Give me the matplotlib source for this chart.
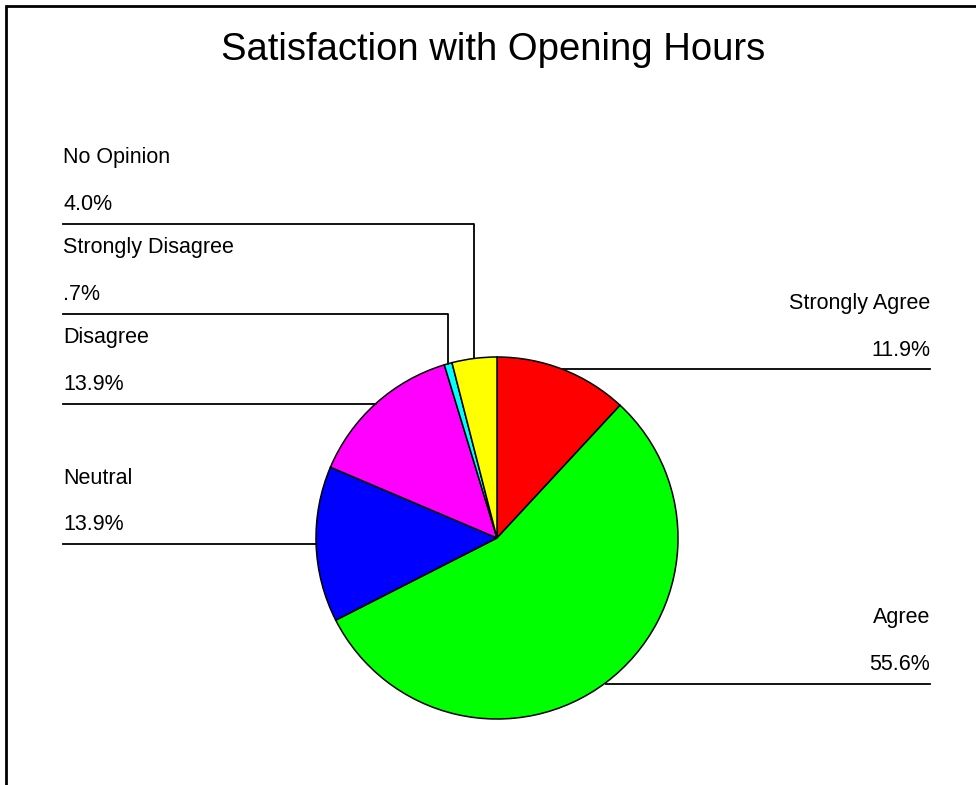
import matplotlib.pyplot as plt
import numpy as np

plt.rcParams['font.family'] = ['Liberation Sans', 'DejaVu Sans']

categories = ["Strongly Agree", "Agree", "Neutral", "Disagree",
              "Strongly Disagree", "No Opinion"]
percents = [11.9, 55.6, 13.9, 13.9, 0.7, 4.0]
colors = ["#ff0000", "#00ff00", "#0000ff", "#ff00ff", "#00ffff", "#ffff00"]

W, H = 976, 785
fig = plt.figure(figsize=(W / 100, H / 100), dpi=100)
ax = fig.add_axes([0, 0, 1, 1])


def py(y):
    # pixel row (from top) -> data y
    return H - y


cx, cy, r = 497, py(538), 181
wedges, _ = ax.pie(percents, colors=colors, startangle=90, counterclock=False,
                   center=(cx, cy), radius=r, frame=True,
                   wedgeprops=dict(edgecolor="black", linewidth=1.1))
ax.set_xlim(0, W)
ax.set_ylim(0, H)
ax.set_aspect("equal")
ax.axis("off")


def fmt(v):
    s = f"{v:.1f}%"
    return s[1:] if s.startswith("0") else s


# leader line row (pixels from top) and side for each slice
line_rows = {"Strongly Agree": 369, "Agree": 684, "Neutral": 544,
             "Disagree": 404, "Strongly Disagree": 314, "No Opinion": 224}
sides = {"Strongly Agree": "right", "Agree": "right", "Neutral": "left",
         "Disagree": "left", "Strongly Disagree": "elbow", "No Opinion": "elbow"}

fs = 15.5
lw = 1.3
for w, name, v in zip(wedges, categories, percents):
    mid = np.deg2rad((w.theta1 + w.theta2) / 2)
    mx = cx + r * np.cos(mid)
    my = cy + r * np.sin(mid)
    row = line_rows[name]
    ly = py(row)
    if sides[name] == "right":
        ax.plot([mx, 930], [ly, ly], color="black", lw=lw)
        ax.text(930, py(row - 19), fmt(v), ha="right", va="center", fontsize=fs)
        ax.text(930, py(row - 66), name, ha="right", va="center", fontsize=fs)
    else:
        if sides[name] == "elbow":
            ax.plot([63, mx, mx], [ly, ly, my], color="black", lw=lw)
        else:
            ax.plot([63, mx], [ly, ly], color="black", lw=lw)
        ax.text(63, py(row - 19), fmt(v), ha="left", va="center", fontsize=fs)
        ax.text(63, py(row - 66), name, ha="left", va="center", fontsize=fs)

# title
ax.text(493, py(50), "Satisfaction with Opening Hours", ha="center",
        va="center", fontsize=27.5)

# partial chart frame
ax.plot([6, 6, W], [0, py(6), py(6)], color="black", lw=2, solid_joinstyle="miter")

fig.savefig("out.png", dpi=100)
